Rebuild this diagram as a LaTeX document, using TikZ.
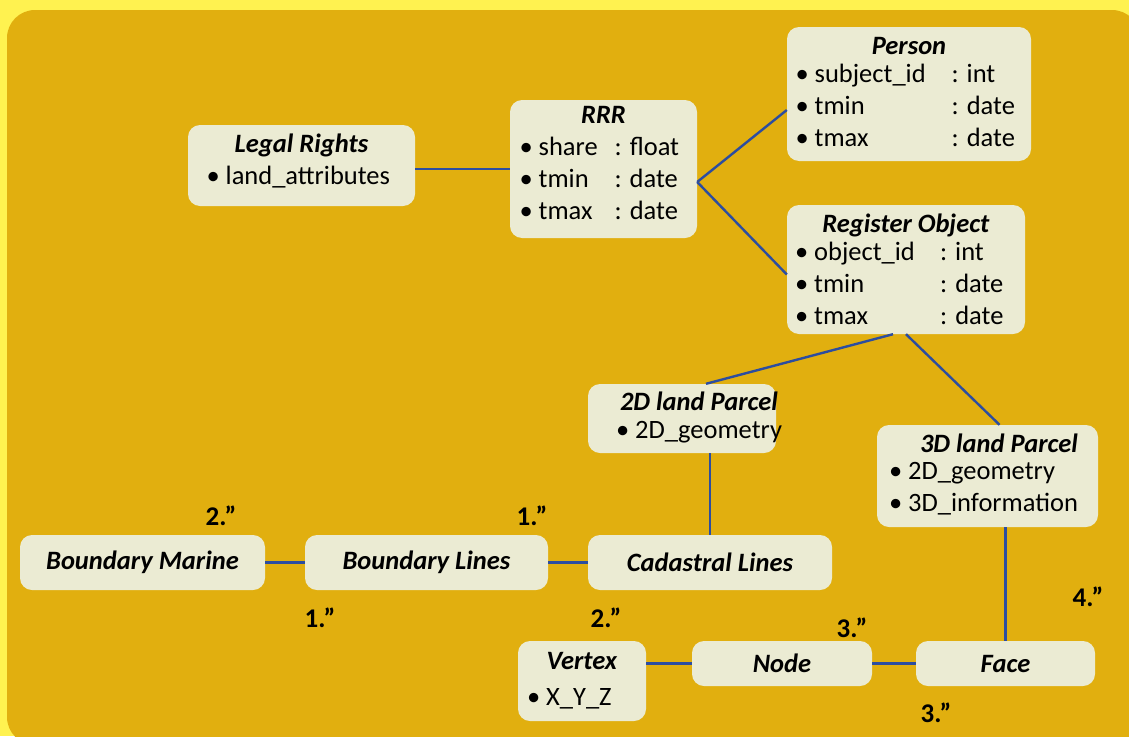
\documentclass[tikz,border=0pt]{standalone}
\usepackage{fontspec}
\setmainfont{Carlito}
\usetikzlibrary{positioning}
\definecolor{pagebg}{RGB}{255,242,80}
\definecolor{panelbg}{RGB}{225,175,15}
\definecolor{boxbg}{RGB}{235,235,211}
\definecolor{linkblue}{RGB}{44,77,160}
\newcommand{\clsname}[1]{\textbf{\textit{#1}}}
\newcommand{\clshead}[2]{\multicolumn{1}{@{}c@{}}{\makebox[#1]{\clsname{#2}}}}
\newcommand{\attr}[3]{\textbullet~\makebox[#1][l]{#2}: #3}
% content set flush left at a given indent inside a box of fixed width
\newcommand{\indented}[3]{\makebox[#1][l]{\hspace{#2}#3}}

\begin{document}
\begin{tikzpicture}[
        x=1pt, y=-1pt,
        box/.style={fill=boxbg, rounded corners=12pt, inner sep=0pt, align=center, font=\fontsize{26.5}{32}\selectfont},
        mult/.style={font=\fontsize{27}{30}\selectfont\bfseries, inner sep=0pt},
        link/.style={draw=linkblue, line width=2.4pt}
    ]
        \useasboundingbox (0,0) rectangle (1129,736);
        \fill[pagebg] (0,0) rectangle (1129,736);
        \fill[panelbg, rounded corners=28pt] (7,10) rectangle (1140,745);

        \node[box, minimum width=227pt, minimum height=81pt] (legal) at (301.5,165.5)
            {\begin{tabular}{@{}l@{}}\clshead{190pt}{Legal Rights}\\
             \textbullet~land\_attributes\\[6pt]\end{tabular}};
        \node[box, minimum width=187pt, minimum height=138pt] (rrr) at (603.5,169)
            {\begin{tabular}{@{}l@{}}\clshead{168pt}{RRR}\\
             \attr{76pt}{share}{float}\\ \attr{76pt}{tmin}{date}\\ \attr{76pt}{tmax}{date}\\[8pt]\end{tabular}};
        \node[box, minimum width=244pt, minimum height=134pt] (person) at (909,94)
            {\begin{tabular}{@{}l@{}}\clshead{227pt}{Person}\\[-4pt]
             \attr{137pt}{subject\_id}{int}\\ \attr{137pt}{tmin}{date}\\ \attr{137pt}{tmax}{date}\end{tabular}};
        \node[box, minimum width=238pt, minimum height=129pt] (regobj) at (906,269.5)
            {\begin{tabular}{@{}l@{}}\clshead{222pt}{Register Object}\\[-4pt]
             \attr{126pt}{object\_id}{int}\\ \attr{126pt}{tmin}{date}\\ \attr{126pt}{tmax}{date}\\[-6pt]\end{tabular}};
        \node[box, minimum width=188pt, minimum height=69pt] (parcel2d) at (682,418.5)
            {\indented{188pt}{28pt}{\begin{tabular}{@{}l@{}}\clshead{166pt}{2D land Parcel}\\[-4pt]
             \textbullet~2D\_geometry\end{tabular}}};
        \node[box, minimum width=221pt, minimum height=102pt] (parcel3d) at (987.5,476)
            {\indented{221pt}{12pt}{\begin{tabular}{@{}l@{}}\clshead{220pt}{3D land Parcel}\\[-5pt]
             \textbullet~2D\_geometry\\ \textbullet~3D\_information\end{tabular}}};

        \node[box, minimum width=245pt, minimum height=55pt] (bmarine) at (142.5,562.5) {\clsname{Boundary Marine}};
        \node[box, minimum width=243pt, minimum height=55pt] (blines) at (426.5,562.5) {\clsname{Boundary Lines}};
        \node[box, minimum width=244pt, minimum height=55pt] (cadastral) at (710,562.5) {\clsname{Cadastral Lines}};

        \node[box, minimum width=128pt, minimum height=80pt] (vertex) at (582,681)
            {\begin{tabular}{@{}l@{}}\clshead{110pt}{Vertex}\\[4pt]
             \textbullet~X\_Y\_Z\end{tabular}};
        \node[box, minimum width=180pt, minimum height=45pt] (nodebox) at (782,663.5) {\clsname{Node}};
        \node[box, minimum width=179pt, minimum height=45pt] (face) at (1005.5,663.5) {\clsname{Face}};

        % multiplicities
        \node[mult] (mbm) at (221,516) {2.''};
        \node[mult] (mbl) at (532,516) {1.''};
        \node[mult] (mbl2) at (320,618) {1.''};
        \node[mult] (mcl) at (606,618) {2.''};
        \node[mult] (mnd) at (852,628) {3.''};
        \node[mult] (mp3) at (1088,597) {4.''};
        \node[mult] (mfc) at (936,713) {3.''};

        % links
        \draw[link] (rrr.west) -- (rrr.west -| legal.east);
        \coordinate (rrrfork) at ([yshift=-13pt]rrr.east);
        \draw[link] (rrrfork) -- ([yshift=-16pt]person.west);
        \draw[link] (rrrfork) -- ([yshift=-5pt]regobj.west);
        \draw[link] ([xshift=-13pt]regobj.south) -- ([xshift=24pt]parcel2d.north);
        \draw[link] (regobj.south) -- ([xshift=12pt]parcel3d.north);
        \draw[link] (cadastral.north) -- (cadastral.north |- parcel2d.south);
        \draw[link] (bmarine.east) -- (blines.west);
        \draw[link] (blines.east) -- (cadastral.west);
        \draw[link] (face.north) -- (face.north |- parcel3d.south);
        \draw[link] (nodebox.west) -- (nodebox.west -| vertex.east);
        \draw[link] (nodebox.east) -- (face.west);
\end{tikzpicture}
\end{document}
